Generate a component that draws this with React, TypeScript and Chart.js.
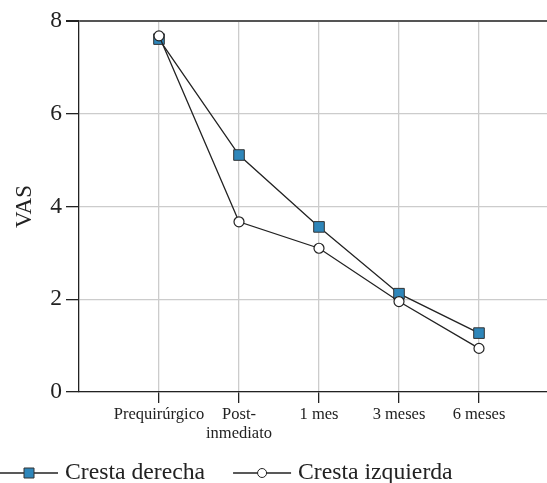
import React, { useEffect, useRef } from "react";
import { Chart, registerables } from "chart.js";

Chart.register(...registerables);

const categories: (string | string[])[] = ["Prequirúrgico", ["Post-", "inmediato"], "1 mes", "3 meses", "6 meses"];
const derecha = [7.61, 5.11, 3.56, 2.12, 1.27];
const izquierda = [7.68, 3.67, 3.1, 1.95, 0.94];
const yTicks = [0, 2, 4, 6, 8];
const seriesNames = ["Cresta derecha", "Cresta izquierda"];

const FONT = "'Liberation Serif', 'Times New Roman', serif";

const legendPlugin = {
  id: "customLegend",
  afterDraw(chart: any) {
    const ctx = chart.ctx;
    const y = 473;
    let x = 0;
    ctx.save();
    ctx.font = `23.7px ${FONT}`;
    chart.data.datasets.forEach((ds: any) => {
      const lineLen = 58;
      ctx.strokeStyle = "#222";
      ctx.lineWidth = 1.3;
      ctx.beginPath();
      ctx.moveTo(x, y);
      ctx.lineTo(x + lineLen, y);
      ctx.stroke();
      const mx = x + lineLen / 2;
      ctx.fillStyle = ds.pointBackgroundColor;
      ctx.strokeStyle = ds.pointBorderColor;
      ctx.lineWidth = 1;
      ctx.beginPath();
      if (ds.pointStyle === "rect") {
        ctx.rect(mx - 5, y - 5, 10, 10);
      } else {
        ctx.arc(mx, y, 4.5, 0, Math.PI * 2);
      }
      ctx.fill();
      ctx.stroke();
      ctx.fillStyle = "#222";
      ctx.textBaseline = "middle";
      ctx.textAlign = "left";
      const tx = x + lineLen + 7;
      ctx.fillText(ds.label, tx, y);
      x = tx + ctx.measureText(ds.label).width + 28;
    });
    ctx.restore();
  },
};

export default function App() {
  const ref = useRef<HTMLCanvasElement>(null);
  useEffect(() => {
    if (!ref.current) return;
    const chart = new Chart(ref.current, {
      type: "line",
      data: {
        datasets: [
          {
            label: seriesNames[0],
            data: derecha.map((v, i) => ({ x: i + 1, y: v })),
            borderColor: "#222",
            borderWidth: 1.3,
            pointStyle: "rect",
            pointRadius: 7.5,
            pointBackgroundColor: "#2e86ba",
            pointBorderColor: "#333",
            pointBorderWidth: 1,
            order: 1,
          },
          {
            label: seriesNames[1],
            data: izquierda.map((v, i) => ({ x: i + 1, y: v })),
            borderColor: "#222",
            borderWidth: 1.3,
            pointStyle: "circle",
            pointRadius: 5,
            pointBackgroundColor: "#ffffff",
            pointBorderColor: "#222",
            pointBorderWidth: 1.2,
            order: 0,
          },
        ],
      },
      options: {
        animation: false,
        responsive: false,
        layout: { autoPadding: false, padding: { top: 21, right: 0, bottom: 0, left: 0 } },
        plugins: { legend: { display: false }, tooltip: { enabled: false } },
        scales: {
          x: {
            type: "linear",
            min: 0,
            max: 5.85,
            afterBuildTicks: (s: any) => {
              s.ticks = categories.map((_, i) => ({ value: i + 1 }));
            },
            afterFit: (s: any) => {
              s.height = 91;
              s.paddingRight = 0;
              s.paddingLeft = 0;
            },
            ticks: {
              autoSkip: false,
              maxRotation: 0,
              padding: 2,
              color: "#222",
              font: { size: 16.5, family: FONT, lineHeight: 1.15 },
              callback: (v: any) => categories[Math.round(v) - 1] as any,
            },
            grid: {
              color: "#cccccc",
              lineWidth: 1.3,
              tickColor: "#222",
              tickLength: 11,
            },
            border: { color: "#222", width: 1.3 },
          },
          y: {
            min: 0,
            max: 8,
            afterBuildTicks: (s: any) => {
              s.ticks = yTicks.map((v) => ({ value: v }));
            },
            afterFit: (s: any) => {
              s.width = 79;
            },
            title: {
              display: true,
              text: "VAS",
              color: "#222",
              font: { size: 23, family: FONT },
              padding: 11,
            },
            ticks: {
              padding: 4,
              color: "#222",
              font: { size: 23.5, family: FONT },
            },
            grid: {
              color: (c: any) => (c.tick && c.tick.value === 8 ? "#555" : "#cccccc"),
              lineWidth: (c: any) => (c.tick && c.tick.value === 8 ? 2 : 1.3),
              tickColor: "#222",
              tickLength: 13,
            },
            border: { color: "#222", width: 1.3 },
          },
        },
      },
      plugins: [legendPlugin],
    } as any);
    return () => chart.destroy();
  }, []);
  return (
    <div style={{ position: "fixed", left: 0, top: 0, width: 547, height: 483, background: "#fff" }}>
      <canvas ref={ref} width={547} height={483} style={{ display: "block" }} />
    </div>
  );
}
